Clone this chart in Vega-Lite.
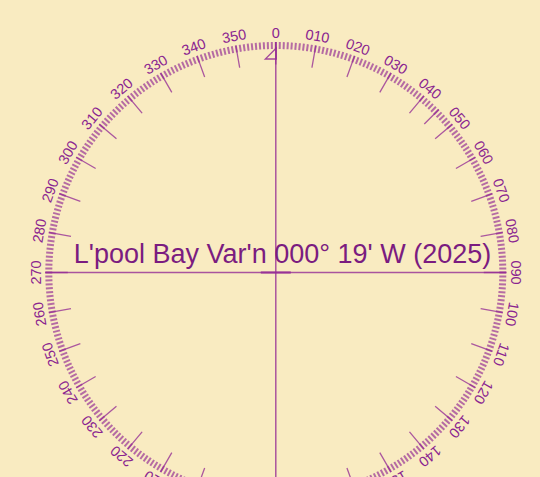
{
"$schema": "https://vega.github.io/schema/vega-lite/v6.json",
"width": 540, "height": 477, "autosize": {"type": "none"}, "padding": 0,
"background": "#F9EBC1",
"config": {"view": {"stroke": null}, "axis": {"disable": true}, "font": "Liberation Sans"},
"datasets": {
"deg": [{"d":0},{"d":1},{"d":2},{"d":3},{"d":4},{"d":5},{"d":6},{"d":7},{"d":8},{"d":9},{"d":10},{"d":11},{"d":12},{"d":13},{"d":14},{"d":15},{"d":16},{"d":17},{"d":18},{"d":19},{"d":20},{"d":21},{"d":22},{"d":23},{"d":24},{"d":25},{"d":26},{"d":27},{"d":28},{"d":29},{"d":30},{"d":31},{"d":32},{"d":33},{"d":34},{"d":35},{"d":36},{"d":37},{"d":38},{"d":39},{"d":40},{"d":41},{"d":42},{"d":43},{"d":44},{"d":45},{"d":46},{"d":47},{"d":48},{"d":49},{"d":50},{"d":51},{"d":52},{"d":53},{"d":54},{"d":55},{"d":56},{"d":57},{"d":58},{"d":59},{"d":60},{"d":61},{"d":62},{"d":63},{"d":64},{"d":65},{"d":66},{"d":67},{"d":68},{"d":69},{"d":70},{"d":71},{"d":72},{"d":73},{"d":74},{"d":75},{"d":76},{"d":77},{"d":78},{"d":79},{"d":80},{"d":81},{"d":82},{"d":83},{"d":84},{"d":85},{"d":86},{"d":87},{"d":88},{"d":89},{"d":90},{"d":91},{"d":92},{"d":93},{"d":94},{"d":95},{"d":96},{"d":97},{"d":98},{"d":99},{"d":100},{"d":101},{"d":102},{"d":103},{"d":104},{"d":105},{"d":106},{"d":107},{"d":108},{"d":109},{"d":110},{"d":111},{"d":112},{"d":113},{"d":114},{"d":115},{"d":116},{"d":117},{"d":118},{"d":119},{"d":120},{"d":121},{"d":122},{"d":123},{"d":124},{"d":125},{"d":126},{"d":127},{"d":128},{"d":129},{"d":130},{"d":131},{"d":132},{"d":133},{"d":134},{"d":135},{"d":136},{"d":137},{"d":138},{"d":139},{"d":140},{"d":141},{"d":142},{"d":143},{"d":144},{"d":145},{"d":146},{"d":147},{"d":148},{"d":149},{"d":150},{"d":151},{"d":152},{"d":153},{"d":154},{"d":155},{"d":156},{"d":157},{"d":158},{"d":159},{"d":160},{"d":161},{"d":162},{"d":163},{"d":164},{"d":165},{"d":166},{"d":167},{"d":168},{"d":169},{"d":170},{"d":171},{"d":172},{"d":173},{"d":174},{"d":175},{"d":176},{"d":177},{"d":178},{"d":179},{"d":180},{"d":181},{"d":182},{"d":183},{"d":184},{"d":185},{"d":186},{"d":187},{"d":188},{"d":189},{"d":190},{"d":191},{"d":192},{"d":193},{"d":194},{"d":195},{"d":196},{"d":197},{"d":198},{"d":199},{"d":200},{"d":201},{"d":202},{"d":203},{"d":204},{"d":205},{"d":206},{"d":207},{"d":208},{"d":209},{"d":210},{"d":211},{"d":212},{"d":213},{"d":214},{"d":215},{"d":216},{"d":217},{"d":218},{"d":219},{"d":220},{"d":221},{"d":222},{"d":223},{"d":224},{"d":225},{"d":226},{"d":227},{"d":228},{"d":229},{"d":230},{"d":231},{"d":232},{"d":233},{"d":234},{"d":235},{"d":236},{"d":237},{"d":238},{"d":239},{"d":240},{"d":241},{"d":242},{"d":243},{"d":244},{"d":245},{"d":246},{"d":247},{"d":248},{"d":249},{"d":250},{"d":251},{"d":252},{"d":253},{"d":254},{"d":255},{"d":256},{"d":257},{"d":258},{"d":259},{"d":260},{"d":261},{"d":262},{"d":263},{"d":264},{"d":265},{"d":266},{"d":267},{"d":268},{"d":269},{"d":270},{"d":271},{"d":272},{"d":273},{"d":274},{"d":275},{"d":276},{"d":277},{"d":278},{"d":279},{"d":280},{"d":281},{"d":282},{"d":283},{"d":284},{"d":285},{"d":286},{"d":287},{"d":288},{"d":289},{"d":290},{"d":291},{"d":292},{"d":293},{"d":294},{"d":295},{"d":296},{"d":297},{"d":298},{"d":299},{"d":300},{"d":301},{"d":302},{"d":303},{"d":304},{"d":305},{"d":306},{"d":307},{"d":308},{"d":309},{"d":310},{"d":311},{"d":312},{"d":313},{"d":314},{"d":315},{"d":316},{"d":317},{"d":318},{"d":319},{"d":320},{"d":321},{"d":322},{"d":323},{"d":324},{"d":325},{"d":326},{"d":327},{"d":328},{"d":329},{"d":330},{"d":331},{"d":332},{"d":333},{"d":334},{"d":335},{"d":336},{"d":337},{"d":338},{"d":339},{"d":340},{"d":341},{"d":342},{"d":343},{"d":344},{"d":345},{"d":346},{"d":347},{"d":348},{"d":349},{"d":350},{"d":351},{"d":352},{"d":353},{"d":354},{"d":355},{"d":356},{"d":357},{"d":358},{"d":359}],
"tens": [{"d":0,"t":"0"},{"d":10,"t":"010"},{"d":20,"t":"020"},{"d":30,"t":"030"},{"d":40,"t":"040"},{"d":50,"t":"050"},{"d":60,"t":"060"},{"d":70,"t":"070"},{"d":80,"t":"080"},{"d":90,"t":"090"},{"d":100,"t":"100"},{"d":110,"t":"110"},{"d":120,"t":"120"},{"d":130,"t":"130"},{"d":140,"t":"140"},{"d":150,"t":"150"},{"d":160,"t":"160"},{"d":170,"t":"170"},{"d":180,"t":"180"},{"d":190,"t":"190"},{"d":200,"t":"200"},{"d":210,"t":"210"},{"d":220,"t":"220"},{"d":230,"t":"230"},{"d":240,"t":"240"},{"d":250,"t":"250"},{"d":260,"t":"260"},{"d":270,"t":"270"},{"d":280,"t":"280"},{"d":290,"t":"290"},{"d":300,"t":"300"},{"d":310,"t":"310"},{"d":320,"t":"320"},{"d":330,"t":"330"},{"d":340,"t":"340"},{"d":350,"t":"350"}],
"extra": [{"d":45}]
},
"layer": [
{"data": {"name": "deg"},
 "mark": {"type": "arc", "filled": false, "stroke": "#952D95", "strokeWidth": 2, "strokeOpacity": 0.68, "strokeCap": "butt"},
 "encoding": {
  "x": {"datum": 0, "type": "quantitative", "scale": {"domain": [-275.8, 264.2], "nice": false, "zero": false}, "axis": null},
  "y": {"datum": 0, "type": "quantitative", "scale": {"domain": [-204.5, 272.5], "nice": false, "zero": false}, "axis": null},
  "theta": {"field": "d", "type": "quantitative", "stack": null, "scale": {"domain": [0, 360]}},
  "theta2": {"field": "d"},
  "radius": {"datum": 223.5, "type": "quantitative", "scale": {"type": "linear", "domain": [0, 250], "range": [0, 250], "zero": true, "nice": false}},
  "radius2": {"datum": 230.5}
 }},
{"data": {"name": "tens"},
 "mark": {"type": "arc", "filled": false, "stroke": "#952D95", "strokeWidth": 1.3, "strokeOpacity": 0.78, "strokeCap": "butt"},
 "encoding": {
  "x": {"datum": 0, "type": "quantitative"},
  "y": {"datum": 0, "type": "quantitative"},
  "theta": {"field": "d", "type": "quantitative", "stack": null},
  "theta2": {"field": "d"},
  "radius": {"datum": 208, "type": "quantitative"},
  "radius2": {"datum": 230.5}
 }},
{"data": {"name": "extra"},
 "mark": {"type": "arc", "filled": false, "stroke": "#952D95", "strokeWidth": 1.3, "strokeOpacity": 0.78, "strokeCap": "butt"},
 "encoding": {
  "x": {"datum": 0, "type": "quantitative"},
  "y": {"datum": 0, "type": "quantitative"},
  "theta": {"field": "d", "type": "quantitative", "stack": null},
  "theta2": {"field": "d"},
  "radius": {"datum": 210, "type": "quantitative"},
  "radius2": {"datum": 230.5}
 }},
{"data": {"name": "tens"},
 "mark": {"type": "text", "align": "center", "baseline": "alphabetic", "fontSize": 14.5, "color": "#8A2490"},
 "encoding": {
  "x": {"datum": 0, "type": "quantitative"},
  "y": {"datum": 0, "type": "quantitative"},
  "theta": {"field": "d", "type": "quantitative", "stack": null},
  "radius": {"datum": 235, "type": "quantitative"},
  "angle": {"field": "d", "type": "quantitative", "scale": null},
  "text": {"field": "t"}
 }},
{"data": {"values": [{}]},
 "mark": {"type": "rule", "stroke": "#952D95", "strokeWidth": 1.4, "strokeOpacity": 0.85},
 "encoding": {
  "x": {"datum": 0, "type": "quantitative"},
  "y": {"datum": -215, "type": "quantitative"},
  "y2": {"datum": 230.5}
 }},
{"data": {"values": [{}]},
 "mark": {"type": "rule", "stroke": "#952D95", "strokeWidth": 1.3, "strokeOpacity": 0.8},
 "encoding": {
  "y": {"datum": 0, "type": "quantitative"},
  "x": {"datum": -230.5, "type": "quantitative"},
  "x2": {"datum": 230.5}
 }},
{"data": {"values": [{}]},
 "mark": {"type": "rule", "stroke": "#952D95", "strokeWidth": 2.2, "strokeOpacity": 0.85},
 "encoding": {
  "y": {"datum": 0, "type": "quantitative"},
  "x": {"datum": -15, "type": "quantitative"},
  "x2": {"datum": 15}
 }},
{"data": {"values": [{}]},
 "mark": {"type": "point", "shape": "M1,-1L-1,1L1,1Z", "size": 121, "filled": false, "stroke": "#952D95", "strokeWidth": 1.3, "opacity": 0.85},
 "encoding": {
  "x": {"datum": -5, "type": "quantitative"},
  "y": {"datum": 219, "type": "quantitative"}
 }},
{"data": {"values": [{}]},
 "mark": {"type": "text", "align": "center", "baseline": "alphabetic", "fontSize": 27, "color": "#7B1C80", "text": "L'pool Bay Var'n 000° 19' W (2025)"},
 "encoding": {
  "x": {"datum": 6.7, "type": "quantitative"},
  "y": {"datum": 9.5, "type": "quantitative"}
 }}
]
}
